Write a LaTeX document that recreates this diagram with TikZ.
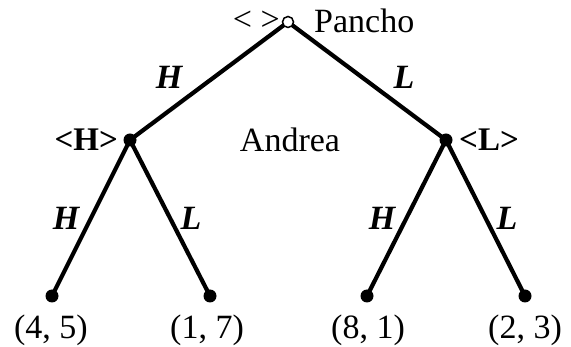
\documentclass[tikz,border=0pt]{standalone}
\usepackage{fontspec}
\setmainfont{Liberation Serif}
\begin{document}
\begin{tikzpicture}[x=1pt,y=-1pt,
  edge/.style={line width=4.2pt},
  dec/.style={circle,fill=black,inner sep=0pt,minimum size=13pt},
  root/.style={circle,draw=black,fill=white,line width=1.5pt,inner sep=0pt,minimum size=11pt},
  txt/.style={font=\fontsize{34}{34}\selectfont,inner sep=0pt},
  act/.style={font=\fontsize{34}{34}\selectfont\bfseries\itshape,inner sep=0pt},
  info/.style={font=\fontsize{33}{33}\selectfont\bfseries,inner sep=0pt}]
\useasboundingbox (0,0) rectangle (571,347);
\coordinate (r) at (288,22);
\node[dec] (h) at (130,140) {};
\node[dec] (l) at (446,140) {};
\node[dec] (hh) at (52,296) {};
\node[dec] (hl) at (210,296) {};
\node[dec] (lh) at (367,296) {};
\node[dec] (ll) at (525,296) {};
\draw[edge] (r) -- (h.center);
\draw[edge] (r) -- (l.center);
\draw[edge] (h.center) -- (hh.center);
\draw[edge] (h.center) -- (hl.center);
\draw[edge] (l.center) -- (lh.center);
\draw[edge] (l.center) -- (ll.center);
\node[root] (rn) at (r) {};
\node[txt,anchor=east] (e) at (280,21) {< >};
\node[txt,anchor=west] (p) at (314,21) {Pancho};
\node[txt] (a) at (290,140) {Andrea};
\node[info,anchor=east] (ih) at (118,140) {<H>};
\node[info,anchor=west] (il) at (459,140) {<L>};
\node[act] (t1) at (169,77) {H};
\node[act] (t2) at (404,77) {L};
\node[act] (b1) at (66,218) {H};
\node[act] (b2) at (191,218) {L};
\node[act] (b3) at (382,218) {H};
\node[act] (b4) at (507,218) {L};
\node[txt] (v1) at (51,330) {(4, 5)};
\node[txt] (v2) at (207,330) {(1, 7)};
\node[txt] (v3) at (368,330) {(8, 1)};
\node[txt] (v4) at (525,330) {(2, 3)};
\end{tikzpicture}
\end{document}
